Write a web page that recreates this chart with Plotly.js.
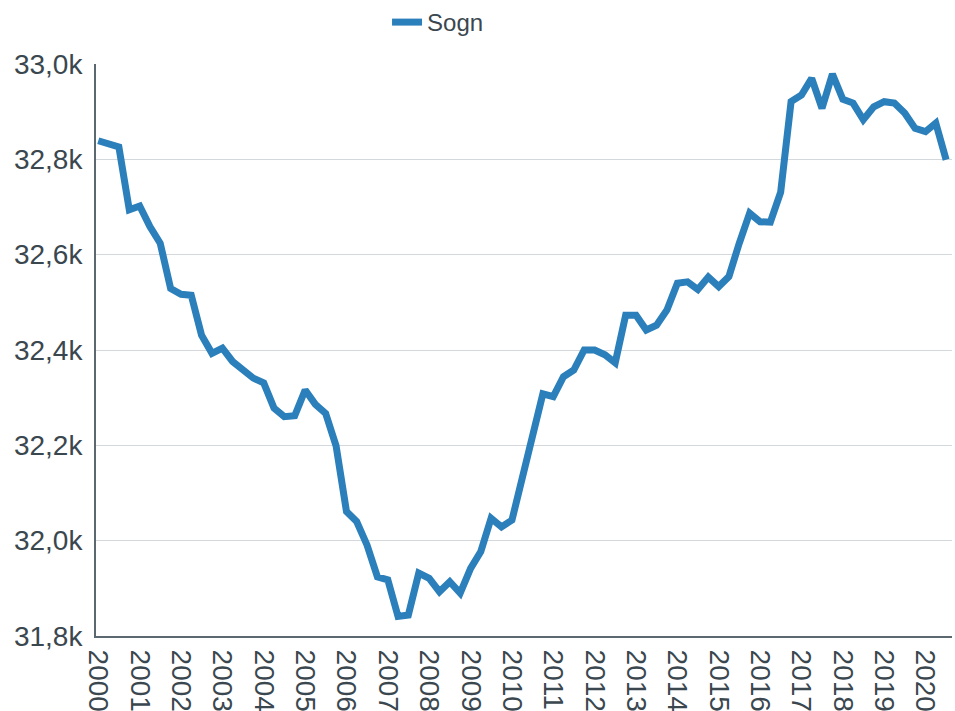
<!DOCTYPE html>
<html>
<head>
<meta charset="utf-8">
<script src="https://cdn.plot.ly/plotly-3.0.1.min.js"></script>
<style>
  html, body { margin: 0; padding: 0; background: #ffffff; }
  #chart { width: 955px; height: 711px; }
</style>
</head>
<body>
<div id="chart"></div>
<script>
// Quarterly periods 2000Q1 .. 2020Q3
const years = [2000,2001,2002,2003,2004,2005,2006,2007,2008,2009,2010,2011,2012,2013,2014,2015,2016,2017,2018,2019,2020];
const quarterMonths = ["01","04","07","10"];
const seriesName = "Sogn";
const sognValues = [
  32839, 32834, 32826, 32694,
  32702, 32659, 32624, 32529,
  32517, 32515, 32431, 32393,
  32404, 32376, 32358, 32341,
  32331, 32278, 32260, 32262,
  32316, 32286, 32267, 32199,
  32061, 32040, 31991, 31924,
  31918, 31841, 31844, 31932,
  31921, 31893, 31914, 31890,
  31942, 31977, 32047, 32029,
  32043, 32127, 32225, 32308,
  32302, 32344, 32358, 32400,
  32400, 32390, 32373, 32473,
  32473, 32442, 32452, 32484,
  32540, 32543, 32527, 32553,
  32533, 32554, 32624, 32687,
  32669, 32668, 32731, 32921,
  32935, 32970, 32907, 32979,
  32926, 32918, 32883, 32910,
  32921, 32918, 32897, 32865,
  32858, 32876, 32799
];
const yTickVals = [31800, 32000, 32200, 32400, 32600, 32800, 33000];

const periods = [];
for (const y of years) {
  for (const m of quarterMonths) {
    if (periods.length < sognValues.length) periods.push(y + "-" + m + "-01");
  }
}

const fontFam = "Liberation Sans, Arial, sans-serif";
const textColor = "#3a474f";

const trace = {
  x: periods,
  y: sognValues,
  type: "scatter",
  mode: "lines",
  name: seriesName,
  line: { color: "#2b7fba", width: 7, shape: "linear" },
  hoverinfo: "x+y"
};

const layout = {
  width: 955,
  height: 711,
  margin: { l: 96, r: 3, t: 64, b: 75, pad: 0 },
  paper_bgcolor: "#ffffff",
  plot_bgcolor: "#ffffff",
  separators: ", ",
  font: { family: fontFam, color: textColor, size: 28 },
  showlegend: true,
  legend: {
    orientation: "h",
    x: 0.340, xanchor: "left",
    y: 1.0, yanchor: "top",
    yref: "container",
    font: { family: fontFam, size: 24, color: textColor },
    bgcolor: "rgba(0,0,0,0)",
    borderwidth: 0,
    itemwidth: 30
  },
  xaxis: {
    type: "date",
    range: ["1999-12-12", "2020-08-22"],
    tickformat: "%Y",
    dtick: "M12",
    tick0: "2000-01-01",
    tickangle: 90,
    tickfont: { family: fontFam, size: 28, color: textColor },
    showgrid: false,
    showline: true,
    linecolor: "#5b6870",
    linewidth: 2,
    ticks: "",
    ticklabelstandoff: 6,
    zeroline: false,
    fixedrange: true
  },
  yaxis: {
    range: [31800, 33000],
    tickvals: yTickVals,
    tickformat: ".3s",
    tickfont: { family: fontFam, size: 28, color: textColor },
    showgrid: true,
    gridcolor: "#d3d8dd",
    gridwidth: 1,
    showline: true,
    linecolor: "#5b6870",
    linewidth: 2,
    ticks: "",
    ticklabelstandoff: 6,
    zeroline: false,
    fixedrange: true
  }
};

Plotly.newPlot("chart", [trace], layout, { displayModeBar: false, staticPlot: true });
</script>
</body>
</html>
